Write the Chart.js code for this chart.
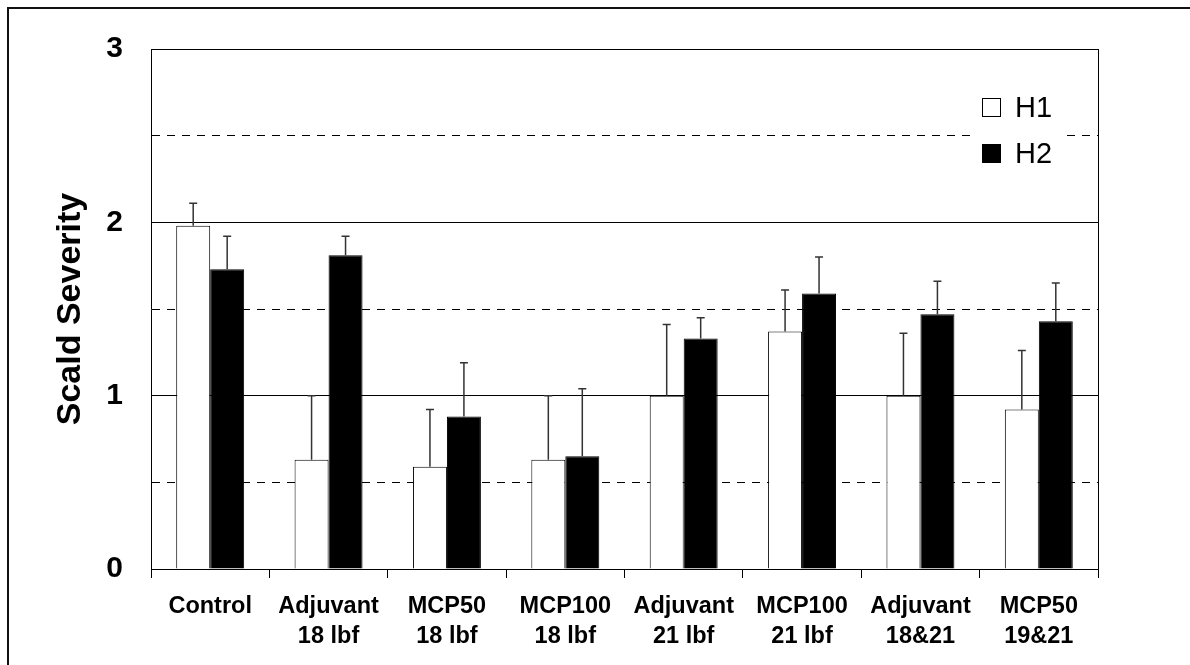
<!DOCTYPE html>
<html>
<head>
<meta charset="utf-8">
<script src="https://cdn.jsdelivr.net/npm/chart.js@4.4.0/dist/chart.umd.min.js"></script>
<style>
  body { margin: 0; background: #fff; }
  canvas { display: block; }
</style>
</head>
<body>
<canvas id="grafico" width="1190" height="665"></canvas>
<script>
const tratamentos = [
  ['Control'],
  ['Adjuvant', '18 lbf'],
  ['MCP50', '18 lbf'],
  ['MCP100', '18 lbf'],
  ['Adjuvant', '21 lbf'],
  ['MCP100', '21 lbf'],
  ['Adjuvant', '18&21'],
  ['MCP50', '19&21']
];
const h1 = [1.98, 0.63, 0.59, 0.63, 1.00, 1.37, 1.00, 0.92];
const h2 = [1.73, 1.81, 0.88, 0.65, 1.33, 1.59, 1.47, 1.43];
const erroH1 = [0.13, 0.37, 0.33, 0.37, 0.41, 0.24, 0.36, 0.34];
const erroH2 = [0.19, 0.11, 0.31, 0.39, 0.12, 0.21, 0.19, 0.22];
const escalaY = [0, 3];
const tituloY = 'Scald Severity';

const fonte = '"Liberation Sans", Arial, sans-serif';

// barras de erro (so para cima)
const barrasErro = {
  id: 'barrasErro',
  afterDatasetsDraw(chart) {
    const ctx = chart.ctx;
    const y = chart.scales.y;
    ctx.save();
    ctx.strokeStyle = '#333';
    ctx.lineWidth = 1.5;
    chart.data.datasets.forEach((ds, i) => {
      const meta = chart.getDatasetMeta(i);
      meta.data.forEach((bar, j) => {
        const topo = y.getPixelForValue(ds.data[j] + ds.erro[j]);
        ctx.beginPath();
        ctx.moveTo(bar.x, bar.y);
        ctx.lineTo(bar.x, topo);
        ctx.moveTo(bar.x - 4, topo);
        ctx.lineTo(bar.x + 4, topo);
        ctx.stroke();
      });
    });
    ctx.restore();
  }
};

// moldura, titulo do eixo y e legenda
const extras = {
  id: 'extras',
  afterDraw(chart) {
    const ctx = chart.ctx;
    const area = chart.chartArea;
    ctx.save();
    ctx.strokeStyle = '#000';
    ctx.lineWidth = 1;
    ctx.beginPath();
    ctx.moveTo(area.right + 0.5, area.top);
    ctx.lineTo(area.right + 0.5, area.bottom);
    ctx.stroke();

    ctx.lineWidth = 2;
    ctx.strokeStyle = '#111';
    ctx.beginPath();
    ctx.moveTo(8, 665);
    ctx.lineTo(8, 8);
    ctx.lineTo(1190, 8);
    ctx.stroke();

    ctx.fillStyle = '#000';
    ctx.font = 'bold 34px ' + fonte;
    ctx.textAlign = 'center';
    ctx.textBaseline = 'alphabetic';
    ctx.translate(80, (area.top + area.bottom) / 2);
    ctx.rotate(-Math.PI / 2);
    ctx.fillText(tituloY, 0, 0);
    ctx.restore();

    ctx.save();
    ctx.fillStyle = '#fff';
    ctx.fillRect(972, 88, 94, 84);
    chart.data.datasets.forEach((ds, i) => {
      const yy = 98 + i * 46;
      ctx.fillStyle = ds.backgroundColor;
      ctx.fillRect(982, yy, 19, 19);
      ctx.strokeStyle = '#000';
      ctx.lineWidth = 1;
      ctx.strokeRect(982.5, yy + 0.5, 18, 18);
      ctx.fillStyle = '#000';
      ctx.font = '29px ' + fonte;
      ctx.textAlign = 'left';
      ctx.textBaseline = 'alphabetic';
      ctx.fillText(ds.label, 1015, yy + 19);
    });
    ctx.restore();
  }
};

const canva = document.getElementById('grafico');

new Chart(canva, {
  type: 'bar',
  data: {
    labels: tratamentos,
    datasets: [
      {
        label: 'H1',
        data: h1,
        erro: erroH1,
        backgroundColor: '#ffffff',
        borderColor: '#000000',
        borderWidth: 1
      },
      {
        label: 'H2',
        data: h2,
        erro: erroH2,
        backgroundColor: '#000000',
        borderColor: '#000000',
        borderWidth: 1
      }
    ]
  },
  options: {
    responsive: false,
    animation: false,
    layout: {
      padding: { left: 0, top: 49, right: 92, bottom: 0 }
    },
    categoryPercentage: 0.574,
    barPercentage: 1,
    plugins: {
      legend: { display: false },
      tooltip: { enabled: false }
    },
    scales: {
      x: {
        afterFit(scale) { scale.height = 96; },
        grid: {
          offset: true,
          drawOnChartArea: false,
          drawTicks: true,
          tickLength: 9,
          color: '#000'
        },
        border: { color: '#000', width: 1 },
        ticks: {
          color: '#000',
          padding: 13,
          font: { family: fonte, size: 23.5, weight: 'bold', lineHeight: 1.28 },
          maxRotation: 0,
          autoSkip: false
        }
      },
      y: {
        min: escalaY[0],
        max: escalaY[1],
        afterFit(scale) { scale.width = 151; },
        grid: {
          color: '#000',
          lineWidth: 1,
          drawTicks: false
        },
        border: {
          color: '#000',
          width: 1,
          dash: (ctx) => (ctx.tick && ctx.tick.value % 1 !== 0) ? [8, 7] : []
        },
        ticks: {
          stepSize: 0.5,
          color: '#000',
          padding: 28,
          font: { family: fonte, size: 30, weight: 'bold' },
          callback: (v) => v % 1 === 0 ? v : ''
        }
      }
    }
  },
  plugins: [barrasErro, extras]
});
</script>
</body>
</html>
